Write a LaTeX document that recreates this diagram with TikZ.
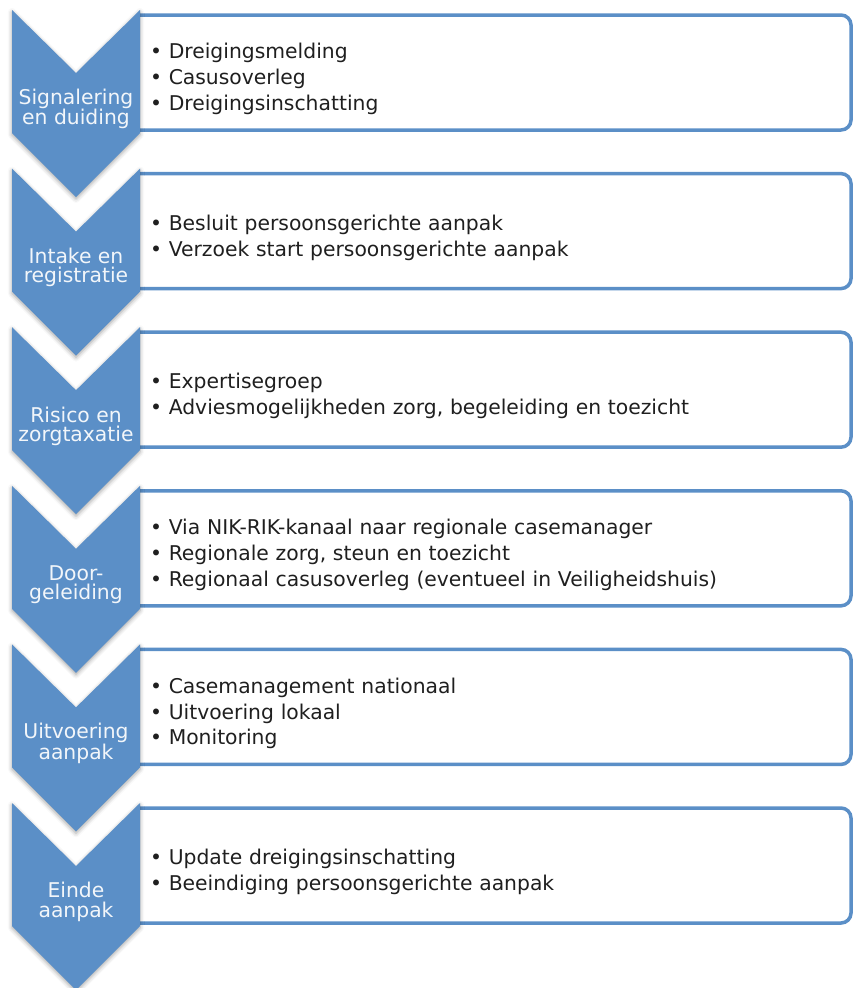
\documentclass[tikz,border=0pt]{standalone}
\usepackage{fontspec}
\setmainfont{DejaVu Sans}
\usetikzlibrary{positioning, shadows.blur}
\definecolor{stageblue}{RGB}{91,143,199}
\tikzset{
x=1bp, y=-1bp, % pixel grid, y runs down
node distance=30.6bp, % gap between two stage boxes
stagebox/.style={minimum width=711bp, minimum height=128bp, text width=691bp, inner xsep=10bp, outer sep=0pt, align=left, text=black!88, font=\fontsize{20.4}{26}\selectfont},
boxline/.style={draw=stageblue, line width=3.5bp, rounded corners=10bp},
chevron/.style={fill=stageblue, blur shadow={shadow xshift=0bp, shadow yshift=-2bp, shadow blur radius=4bp, shadow opacity=35}},
stagelabel/.style={align=center, text=white!92!stageblue, font=\fontsize{20.4}{19.5}\selectfont},
}
\begin{document}
\begin{tikzpicture}
\useasboundingbox (0,0) rectangle (853,988);

% the boxes with the steps
\node[stagebox, anchor=north west] (box1) at (140,15) {• Dreigingsmelding\\• Casusoverleg\\• Dreigingsinschatting};
\node[stagebox, below=of box1] (box2) {• Besluit persoonsgerichte aanpak\\• Verzoek start persoonsgerichte aanpak};
\node[stagebox, below=of box2] (box3) {• Expertisegroep\\• Adviesmogelijkheden zorg, begeleiding en toezicht};
\node[stagebox, below=of box3] (box4) {• Via NIK-RIK-kanaal naar regionale casemanager\\• Regionale zorg, steun en toezicht\\• Regionaal casusoverleg (eventueel in Veiligheidshuis)};
\node[stagebox, below=of box4] (box5) {• Casemanagement nationaal\\• Uitvoering lokaal\\• Monitoring};
\node[stagebox, below=of box5] (box6) {• Update dreigingsinschatting\\• Beeindiging persoonsgerichte aanpak};

% border: text sits a little below the middle of the frame
\draw[boxline] (box1.north west) -| ([yshift=13bp]box1.south east) -- ([yshift=13bp]box1.south west);
\draw[boxline] (box2.north west) -| ([yshift=13bp]box2.south east) -- ([yshift=13bp]box2.south west);
\draw[boxline] (box3.north west) -| ([yshift=13bp]box3.south east) -- ([yshift=13bp]box3.south west);
\draw[boxline] (box4.north west) -| ([yshift=13bp]box4.south east) -- ([yshift=13bp]box4.south west);
\draw[boxline] (box5.north west) -| ([yshift=13bp]box5.south east) -- ([yshift=13bp]box5.south west);
\draw[boxline] (box6.north west) -| ([yshift=13bp]box6.south east) -- ([yshift=13bp]box6.south west);

% chevrons on the left
\path[chevron] ([yshift=5bp]box1.north west) -- ++(-64,63) -- ++(-64,-63) -- ++(0,123) -- ++(64,64) -- ++(64,-64) -- cycle;
\path[chevron] ([yshift=5bp]box2.north west) -- ++(-64,63) -- ++(-64,-63) -- ++(0,123) -- ++(64,64) -- ++(64,-64) -- cycle;
\path[chevron] ([yshift=5bp]box3.north west) -- ++(-64,63) -- ++(-64,-63) -- ++(0,123) -- ++(64,64) -- ++(64,-64) -- cycle;
\path[chevron] ([yshift=5bp]box4.north west) -- ++(-64,63) -- ++(-64,-63) -- ++(0,123) -- ++(64,64) -- ++(64,-64) -- cycle;
\path[chevron] ([yshift=5bp]box5.north west) -- ++(-64,63) -- ++(-64,-63) -- ++(0,123) -- ++(64,64) -- ++(64,-64) -- cycle;
\path[chevron] ([yshift=5bp]box6.north west) -- ++(-64,63) -- ++(-64,-63) -- ++(0,123) -- ++(64,64) -- ++(64,-64) -- cycle;

\node[stagelabel] (stage1) at ([shift={(-64,94)}]box1.north west) {Signalering\\en duiding};
\node[stagelabel] (stage2) at ([shift={(-64,94)}]box2.north west) {Intake en\\registratie};
\node[stagelabel] (stage3) at ([shift={(-64,94)}]box3.north west) {Risico en\\zorgtaxatie};
\node[stagelabel] (stage4) at ([shift={(-64,94)}]box4.north west) {Door-\\geleiding};
\node[stagelabel] (stage5) at ([shift={(-64,94)}]box5.north west) {Uitvoering\\aanpak};
\node[stagelabel] (stage6) at ([shift={(-64,94)}]box6.north west) {Einde\\aanpak};
\end{tikzpicture}
\end{document}
